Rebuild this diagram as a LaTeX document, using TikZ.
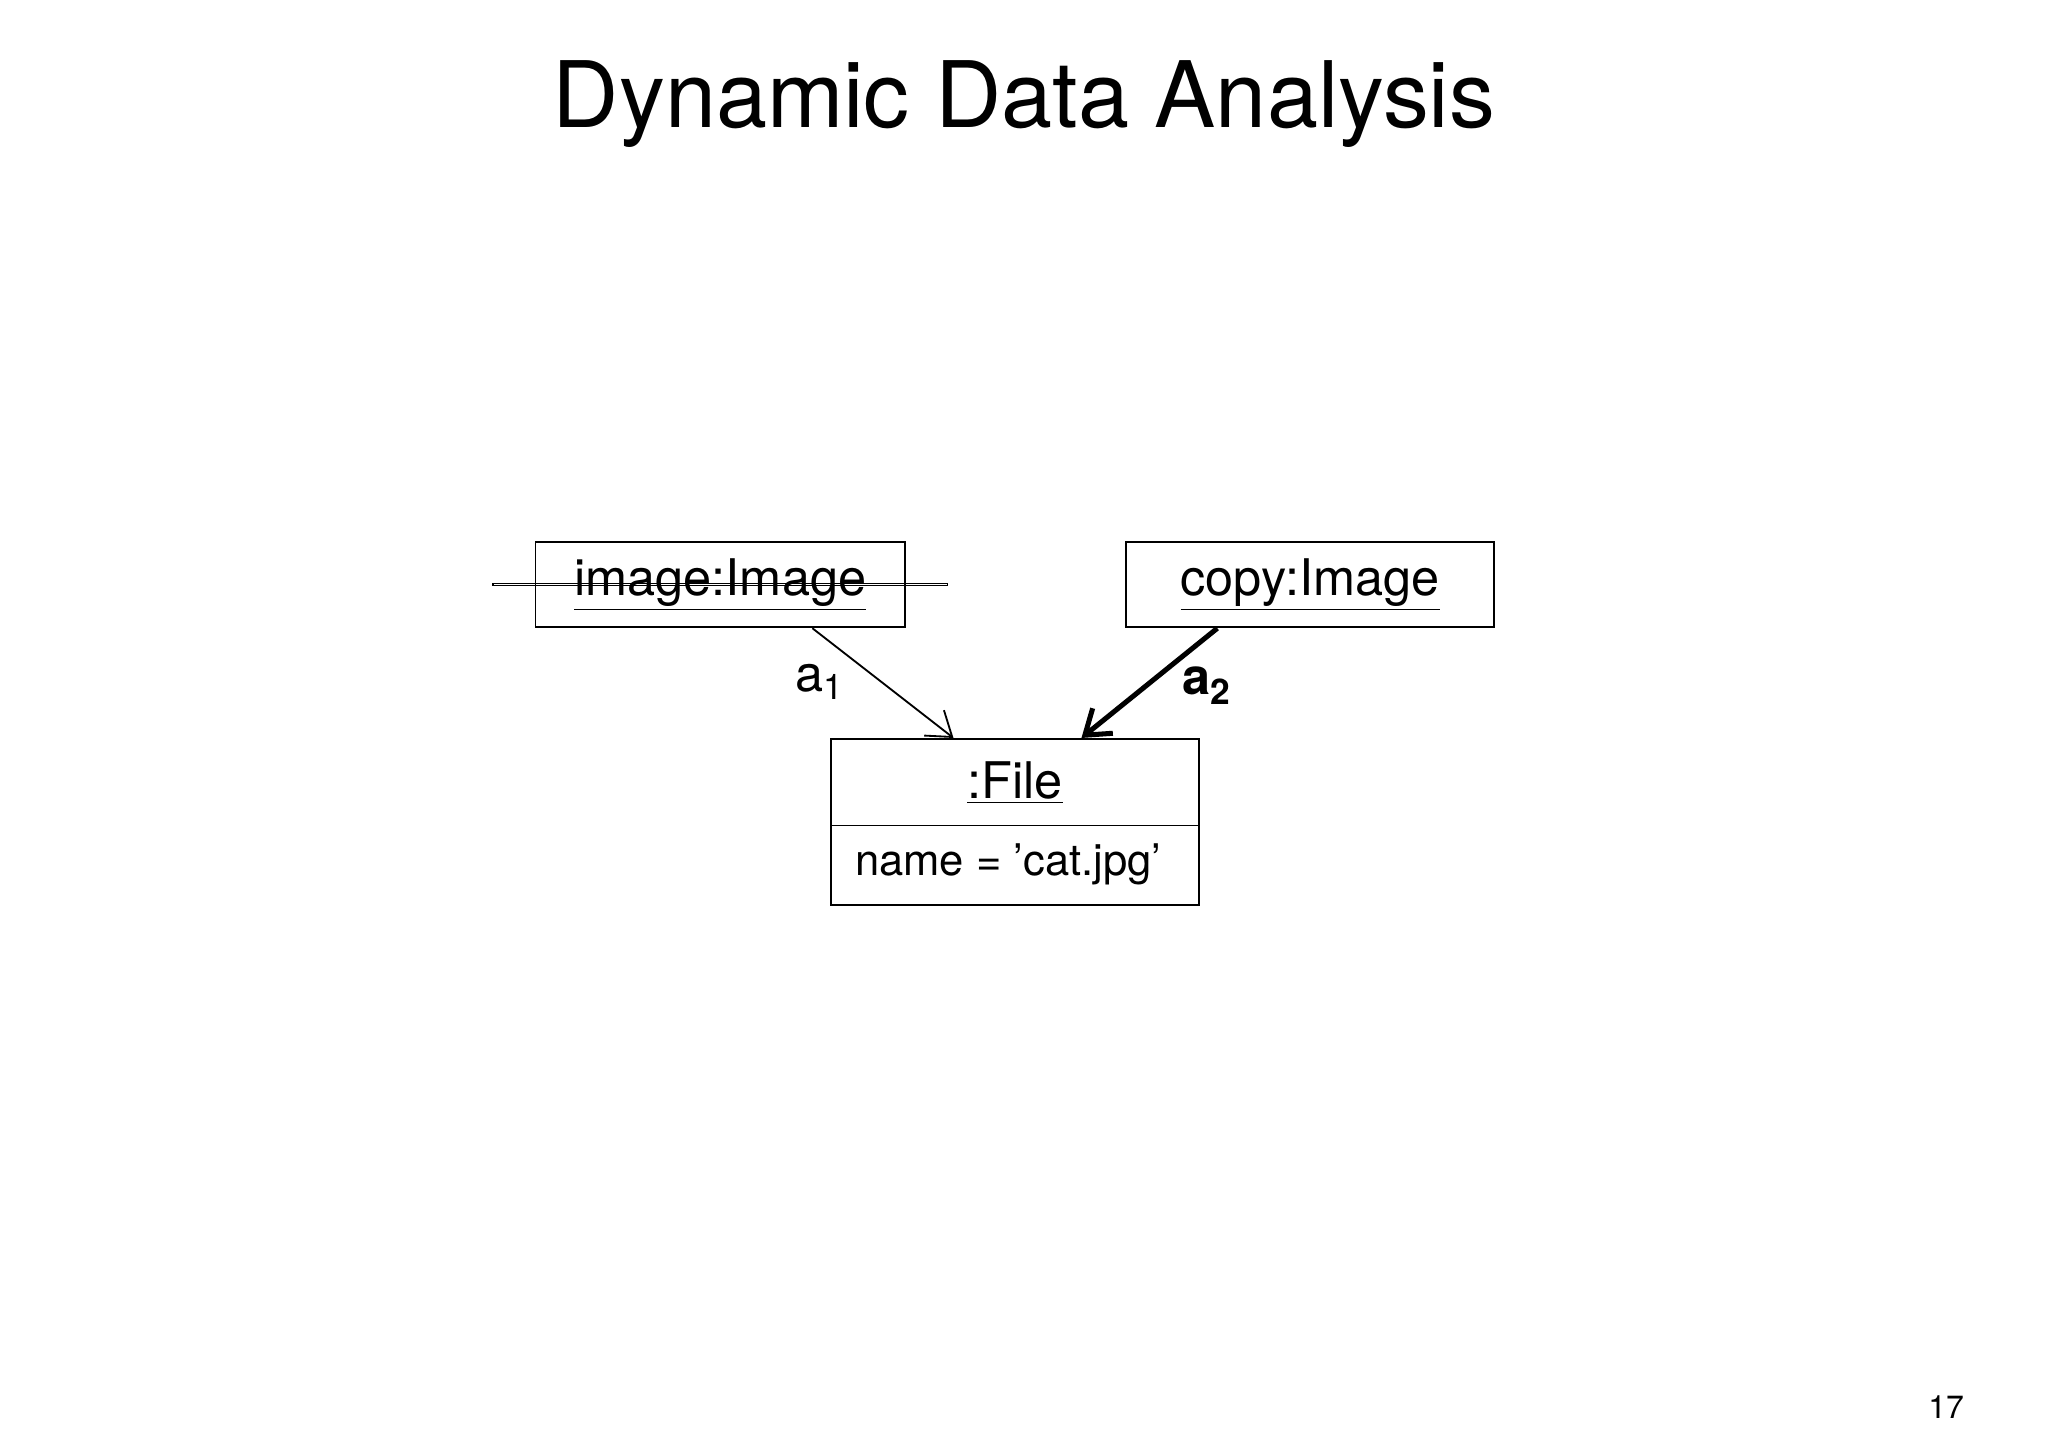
\documentclass[tikz,border=0pt]{standalone}
\usepackage{fontspec}
\setmainfont{TeX Gyre Heros}
\usetikzlibrary{arrows.meta}
\begin{document}
\begin{tikzpicture}[x=0.02cm,y=-0.02cm,
  obj/.style={draw,line width=0.7pt,inner sep=0pt,font=\fontsize{22}{26}\selectfont},
  thinarr/.style={line width=0.8pt,-{Straight Barb[length=10pt,width=14pt]}},
  thickarr/.style={line width=2.2pt,-{Straight Barb[length=10pt,width=14pt]}}]
\useasboundingbox (0,0) rectangle (1568,1108);
\node (title) at (784,80) {\fontsize{40}{46}\selectfont Dynamic Data Analysis};
\node[obj,minimum width=283\pgflinewidth] at (551.5,447.5) {};
\draw[line width=0.7pt] (410,415) rectangle (693,480);
\node[font=\fontsize{22}{26}\selectfont] (img) at (551.5,447.5) {\underline{image:Image}};
\coordinate (imgB) at (622,481);
\draw[line width=0.7pt] (862,415) rectangle (1144,480);
\node[font=\fontsize{22}{26}\selectfont] (cpy) at (1003,447.5) {\underline{copy:Image}};
\coordinate (cpyB) at (932,481);
\draw[line width=0.7pt] (636,566) rectangle (918,693);
\draw[line width=0.7pt] (636,632) -- (918,632);
\node[font=\fontsize{22}{26}\selectfont] (file) at (777,599) {\underline{:File}};
\node[font=\fontsize{19}{23}\selectfont] (attr) at (772,662) {name = 'cat.jpg'};
\coordinate (fA) at (730,565);
\coordinate (fB) at (828,565);
\draw[thinarr] (imgB) -- (fA);
\draw[thickarr] (cpyB) -- (fB);
\node[font=\fontsize{22}{26}\selectfont] (l1) at (628,522) {a$_{\mathrm{1}}$};
\node[font=\fontsize{22}{26}\selectfont\bfseries] (l2) at (924,525) {a\textsubscript{2}};
\node[font=\fontsize{14}{16}\selectfont] (pg) at (1490,1077) {17};
\end{tikzpicture}
\end{document}
